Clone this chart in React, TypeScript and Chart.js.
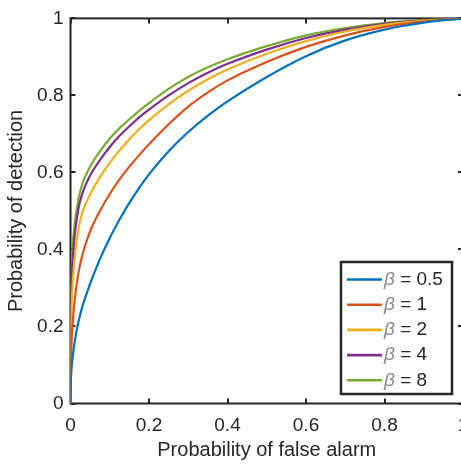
import React, { useEffect, useRef } from "react";
import { Chart, registerables } from "chart.js";

Chart.register(...registerables);

// ---- data ----
const falseAlarm = [0, 0.0005, 0.002, 0.005, 0.01, 0.02, 0.03, 0.05, 0.075, 0.1, 0.125, 0.15, 0.175, 0.2, 0.25, 0.3, 0.35, 0.4, 0.5, 0.6, 0.7, 0.8, 0.9, 1];
const betaValues = ["0.5", "1", "2", "4", "8"];
const pdBeta05 = [0, 0.045, 0.08, 0.116, 0.156, 0.211, 0.251, 0.311, 0.375, 0.43, 0.478, 0.521, 0.56, 0.595, 0.655, 0.705, 0.7475, 0.7845, 0.848, 0.902, 0.943, 0.971, 0.989, 1];
const pdBeta1 = [0, 0.075, 0.14, 0.2, 0.262, 0.338, 0.385, 0.447, 0.5, 0.544, 0.582, 0.615, 0.645, 0.673, 0.725, 0.771, 0.808, 0.839, 0.887, 0.926, 0.956, 0.978, 0.992, 1];
const pdBeta2 = [0, 0.13, 0.22, 0.3, 0.37, 0.452, 0.495, 0.543, 0.588, 0.625, 0.657, 0.686, 0.712, 0.736, 0.777, 0.812, 0.842, 0.867, 0.908, 0.941, 0.966, 0.983, 0.994, 1];
const pdBeta4 = [0, 0.18, 0.28, 0.36, 0.43, 0.505, 0.545, 0.592, 0.632, 0.666, 0.695, 0.72, 0.743, 0.763, 0.8, 0.832, 0.859, 0.882, 0.919, 0.949, 0.971, 0.986, 0.995, 1];
const pdBeta8 = [0, 0.22, 0.32, 0.4, 0.46, 0.53, 0.57, 0.615, 0.655, 0.688, 0.715, 0.738, 0.76, 0.78, 0.817, 0.848, 0.873, 0.894, 0.928, 0.956, 0.975, 0.988, 0.996, 1];
const seriesValues = [pdBeta05, pdBeta1, pdBeta2, pdBeta4, pdBeta8];
const seriesColors = ["#0072BD", "#D95319", "#EDB120", "#7E2F8E", "#77AC30"];
const xTickLabels = ["0", "0.2", "0.4", "0.6", "0.8", "1"];
const yTickLabels = ["0", "0.2", "0.4", "0.6", "0.8", "1"];
const xTitle = "Probability of false alarm";
const yTitle = "Probability of detection";

const FONT = "'Liberation Sans', Arial, Helvetica, sans-serif";
const AXIS_COLOR = "#262626";

const framePlugin = {
  id: "matlabFrame",
  beforeDatasetsDraw(chart: any) {
    const { ctx, chartArea } = chart;
    const { left, right, top, bottom } = chartArea;
    const xs = chart.scales.x;
    const ys = chart.scales.y;
    ctx.save();
    ctx.strokeStyle = AXIS_COLOR;
    ctx.lineWidth = 2;
    ctx.strokeRect(left, top, right - left, bottom - top);
    const len = 5;
    ctx.beginPath();
    xs.ticks.forEach((t: any) => {
      const px = Math.round(xs.getPixelForValue(t.value));
      ctx.moveTo(px, bottom);
      ctx.lineTo(px, bottom - len);
      ctx.moveTo(px, top);
      ctx.lineTo(px, top + len);
    });
    ys.ticks.forEach((t: any) => {
      const py = Math.round(ys.getPixelForValue(t.value));
      ctx.moveTo(left, py);
      ctx.lineTo(left + len, py);
      ctx.moveTo(right, py);
      ctx.lineTo(right - len, py);
    });
    ctx.stroke();
    ctx.restore();
  },
};

const legendPlugin = {
  id: "betaLegend",
  afterDatasetsDraw(chart: any) {
    const { ctx, chartArea } = chart;
    const datasets = chart.data.datasets;
    const boxW = 111;
    const rowH = 25.2;
    const boxH = 132;
    const x1 = chartArea.right - 11;
    const y1 = chartArea.bottom - 9.5;
    const x0 = x1 - boxW;
    const y0 = y1 - boxH;
    ctx.save();
    ctx.fillStyle = "#ffffff";
    ctx.fillRect(x0, y0, boxW, boxH);
    ctx.strokeStyle = AXIS_COLOR;
    ctx.lineWidth = 2.5;
    ctx.strokeRect(x0, y0, boxW, boxH);
    ctx.textBaseline = "middle";
    datasets.forEach((ds: any, i: number) => {
      const cy = y0 + 17.5 + i * rowH;
      ctx.strokeStyle = ds.borderColor;
      ctx.lineWidth = 2.6;
      ctx.beginPath();
      ctx.moveTo(x0 + 6, cy);
      ctx.lineTo(x0 + 41, cy);
      ctx.stroke();
      ctx.font = `italic 19px ${FONT}`;
      ctx.fillStyle = "#8a8a8a";
      ctx.fillText("\u03B2", x0 + 43, cy);
      const bw = ctx.measureText("\u03B2").width;
      ctx.font = `19px ${FONT}`;
      ctx.fillStyle = AXIS_COLOR;
      ctx.fillText(" = " + betaValues[i], x0 + 43 + bw, cy);
    });
    ctx.restore();
  },
};

export default function App() {
  const canvasRef = useRef<HTMLCanvasElement | null>(null);

  useEffect(() => {
    if (!canvasRef.current) return;
    const datasets = seriesValues.map((vals, i) => ({
      label: "\u03B2 = " + betaValues[i],
      data: falseAlarm.map((x, j) => ({ x, y: vals[j] })),
      borderColor: seriesColors[i],
      backgroundColor: seriesColors[i],
      borderWidth: 2.2,
      pointRadius: 0,
      cubicInterpolationMode: "monotone" as const,
      fill: false,
    }));
    const chart = new Chart(canvasRef.current, {
      type: "line",
      data: { datasets },
      plugins: [framePlugin, legendPlugin],
      options: {
        animation: false,
        responsive: false,
        devicePixelRatio: 1,
        layout: { padding: { left: 0, top: 11, right: 17, bottom: 0 } },
        plugins: { legend: { display: false }, tooltip: { enabled: false } },
        scales: {
          x: {
            type: "linear",
            min: 0,
            max: 1,
            afterFit: (s: any) => {
              s.height = 62.5;
            },
            afterBuildTicks: (s: any) => {
              s.ticks = xTickLabels.map((l) => ({ value: parseFloat(l) }));
            },
            grid: { display: false, drawTicks: false },
            border: { display: false },
            ticks: {
              callback: (v: any) => xTickLabels.find((l) => parseFloat(l) === v) ?? "",
              font: { family: FONT, size: 19 },
              color: AXIS_COLOR,
              padding: 11,
              maxRotation: 0,
            },
            title: {
              display: true,
              text: xTitle,
              font: { family: FONT, size: 20 },
              color: AXIS_COLOR,
              padding: { top: 5 },
            },
          },
          y: {
            type: "linear",
            min: 0,
            max: 1,
            afterFit: (s: any) => {
              s.width = 70.5;
            },
            afterBuildTicks: (s: any) => {
              s.ticks = yTickLabels.map((l) => ({ value: parseFloat(l) }));
            },
            grid: { display: false, drawTicks: false },
            border: { display: false },
            ticks: {
              callback: (v: any) => yTickLabels.find((l) => parseFloat(l) === v) ?? "",
              font: { family: FONT, size: 19 },
              color: AXIS_COLOR,
              padding: 7,
            },
            title: {
              display: true,
              text: yTitle,
              font: { family: FONT, size: 20 },
              color: AXIS_COLOR,
              padding: { top: 4, bottom: 0 },
            },
          },
        },
      },
    });
    return () => chart.destroy();
  }, []);

  return (
    <div
      style={{
        position: "fixed",
        left: 0,
        top: 0,
        width: 461,
        height: 466,
        overflow: "hidden",
        background: "#ffffff",
      }}
    >
      <canvas ref={canvasRef} width={480} height={466} style={{ display: "block" }} />
    </div>
  );
}
